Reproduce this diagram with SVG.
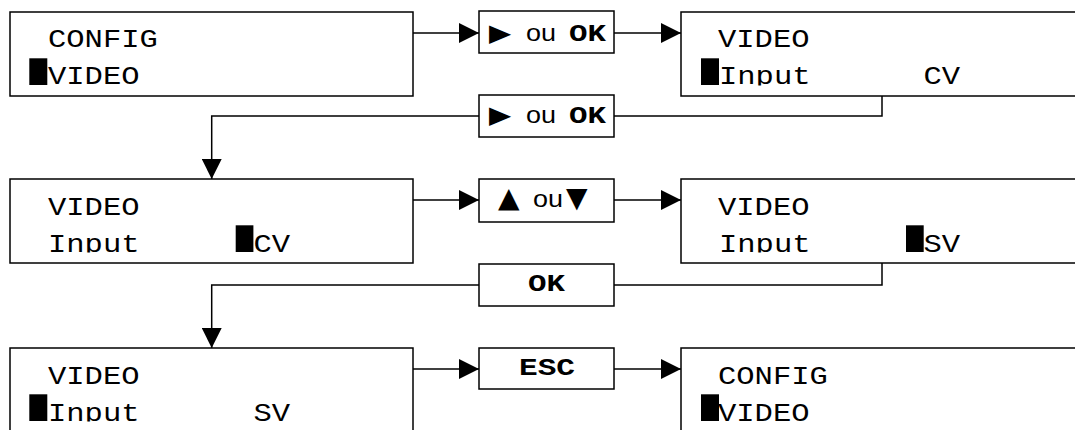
<svg xmlns="http://www.w3.org/2000/svg" width="1075" height="430" viewBox="0 0 1075 430">
<defs>
<marker id="ah" markerUnits="userSpaceOnUse" markerWidth="20" markerHeight="20" refX="20" refY="10" orient="auto" viewBox="0 0 20 20"><path d="M0,0 L20,10 L0,20 Z" fill="#000"/></marker>
<clipPath id="c1"><rect x="10" y="12" width="403" height="73.5"/></clipPath>
<clipPath id="c2"><rect x="681" y="12" width="403" height="73.5"/></clipPath>
<clipPath id="c3"><rect x="10" y="179" width="403" height="73.5"/></clipPath>
<clipPath id="c4"><rect x="681" y="179" width="403" height="73.5"/></clipPath>
<clipPath id="c5"><rect x="10" y="348" width="403" height="73.5"/></clipPath>
<clipPath id="c6"><rect x="681" y="348" width="403" height="73.5"/></clipPath>
</defs>
<style>
.box{fill:#fff;stroke:#000;stroke-width:1.5}
.btn{fill:#fff;stroke:#000;stroke-width:1.5}
.lcd{font-family:"Liberation Mono",monospace;font-size:25px;fill:#000}
.cur{fill:#000}
.conn{fill:none;stroke:#000;stroke-width:1.5}
.key{font-family:"Liberation Mono",monospace;font-weight:bold;font-size:24px;fill:#000}
.ou{font-family:"Liberation Sans",sans-serif;font-size:24px;fill:#000}
.sym{font-family:"DejaVu Sans",sans-serif;font-size:28px;fill:#000}
.tri{font-family:"DejaVu Sans",sans-serif;font-size:24px;fill:#000}
</style>
<g id="connectors">
<path class="conn" d="M413,33 H479" marker-end="url(#ah)"/>
<path class="conn" d="M614,33 H681" marker-end="url(#ah)"/>
<path class="conn" d="M882,96 V116 H614"/>
<path class="conn" d="M479,116 H211.7 V179" marker-end="url(#ah)"/>
<path class="conn" d="M413,200 H479" marker-end="url(#ah)"/>
<path class="conn" d="M614,200 H681" marker-end="url(#ah)"/>
<path class="conn" d="M882,263 V285 H614"/>
<path class="conn" d="M479,285 H211.7 V348" marker-end="url(#ah)"/>
<path class="conn" d="M413,369 H479" marker-end="url(#ah)"/>
<path class="conn" d="M614,369 H681" marker-end="url(#ah)"/>
</g>
<g id="box1">
<rect class="box" x="10" y="12" width="403" height="84"/>
<g clip-path="url(#c1)">
<text class="lcd" x="48" y="47" textLength="109.8" lengthAdjust="spacingAndGlyphs">CONFIG</text>
<rect class="cur" x="29.3" y="58.3" width="18" height="26.7"/>
<text class="lcd" x="48" y="84" textLength="91.5" lengthAdjust="spacingAndGlyphs">VIDEO</text>
</g>
</g>
<g id="box2">
<rect class="box" x="681" y="12" width="403" height="84"/>
<g clip-path="url(#c2)">
<text class="lcd" x="718" y="47" textLength="91.5" lengthAdjust="spacingAndGlyphs">VIDEO</text>
<rect class="cur" x="701" y="58.3" width="18" height="26.7"/>
<text class="lcd" x="719" y="84" textLength="91.5" lengthAdjust="spacingAndGlyphs">Input</text>
<text class="lcd" x="923.5" y="84" textLength="36.6" lengthAdjust="spacingAndGlyphs">CV</text>
</g>
</g>
<g id="box3">
<rect class="box" x="10" y="179" width="403" height="84"/>
<g clip-path="url(#c3)">
<text class="lcd" x="48" y="214.5" textLength="91.5" lengthAdjust="spacingAndGlyphs">VIDEO</text>
<text class="lcd" x="48" y="251.5" textLength="91.5" lengthAdjust="spacingAndGlyphs">Input</text>
<rect class="cur" x="235.7" y="225.3" width="17.7" height="26.7"/>
<text class="lcd" x="253.5" y="251.5" textLength="36.6" lengthAdjust="spacingAndGlyphs">CV</text>
</g>
</g>
<g id="box4">
<rect class="box" x="681" y="179" width="403" height="84"/>
<g clip-path="url(#c4)">
<text class="lcd" x="718" y="214.5" textLength="91.5" lengthAdjust="spacingAndGlyphs">VIDEO</text>
<text class="lcd" x="719" y="251.5" textLength="91.5" lengthAdjust="spacingAndGlyphs">Input</text>
<rect class="cur" x="906" y="225.3" width="17.7" height="26.7"/>
<text class="lcd" x="923.5" y="251.5" textLength="36.6" lengthAdjust="spacingAndGlyphs">SV</text>
</g>
</g>
<g id="box5">
<rect class="box" x="10" y="348" width="403" height="100"/>
<g clip-path="url(#c5)">
<text class="lcd" x="48" y="383.5" textLength="91.5" lengthAdjust="spacingAndGlyphs">VIDEO</text>
<rect class="cur" x="29.3" y="394.3" width="18" height="26.7"/>
<text class="lcd" x="48" y="420.5" textLength="91.5" lengthAdjust="spacingAndGlyphs">Input</text>
<text class="lcd" x="253.5" y="420.5" textLength="36.6" lengthAdjust="spacingAndGlyphs">SV</text>
</g>
</g>
<g id="box6">
<rect class="box" x="681" y="348" width="403" height="100"/>
<g clip-path="url(#c6)">
<text class="lcd" x="718" y="383.5" textLength="109.8" lengthAdjust="spacingAndGlyphs">CONFIG</text>
<rect class="cur" x="701" y="394.3" width="18" height="26.7"/>
<text class="lcd" x="718" y="420.5" textLength="91.5" lengthAdjust="spacingAndGlyphs">VIDEO</text>
</g>
</g>
<g id="key1">
<rect class="btn" x="479" y="11" width="135" height="42"/>
<text class="tri" transform="translate(489,41) scale(1.2,1)">▶</text>
<text class="ou" x="526" y="41" textLength="30" lengthAdjust="spacingAndGlyphs">ou</text>
<text class="key" x="569" y="41" textLength="37" lengthAdjust="spacingAndGlyphs">OK</text>
</g>
<g id="key2">
<rect class="btn" x="479" y="95" width="135" height="42"/>
<text class="tri" transform="translate(489,122.5) scale(1.2,1)">▶</text>
<text class="ou" x="526" y="122.5" textLength="30" lengthAdjust="spacingAndGlyphs">ou</text>
<text class="key" x="569" y="122.5" textLength="37" lengthAdjust="spacingAndGlyphs">OK</text>
</g>
<g id="key3">
<rect class="btn" x="479" y="179" width="135" height="43"/>
<text class="sym" x="498" y="207">▲</text>
<text class="ou" x="533" y="207" textLength="30" lengthAdjust="spacingAndGlyphs">ou</text>
<text class="sym" x="566" y="207">▼</text>
</g>
<g id="key4">
<rect class="btn" x="479" y="264" width="135" height="42"/>
<text class="key" x="528" y="291" textLength="37" lengthAdjust="spacingAndGlyphs">OK</text>
</g>
<g id="key5">
<rect class="btn" x="479" y="348" width="135" height="41"/>
<text class="key" x="519" y="375" textLength="56" lengthAdjust="spacingAndGlyphs">ESC</text>
</g>
</svg>
